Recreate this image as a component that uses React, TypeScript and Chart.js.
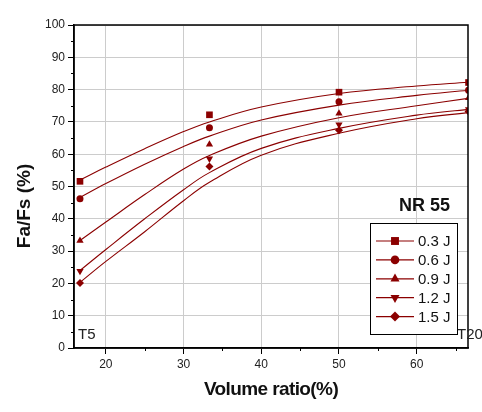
import React, { useEffect, useRef } from "react";
import { Chart, registerables } from "chart.js";

Chart.register(...registerables);

// ---- data ----
const seriesNames = ["0.3 J", "0.6 J", "0.9 J", "1.2 J", "1.5 J"];
const pointX = [16.67, 33.33, 50, 66.67];
const pts03 = [51.6, 72.2, 79.2, 82.2];
const pts06 = [46.2, 68.2, 76.2, 79.8];
const pts09 = [33.2, 63.0, 72.6, 77.4];
const pts12 = [23.8, 58.6, 69.2, 73.9];
const pts15 = [20.1, 56.2, 67.4, 73.2];

const curveX = [16.67, 20, 25, 30, 33.33, 40, 50, 60, 66.67];
const fit03 = [52.0, 56.0, 61.7, 67.0, 70.0, 74.6, 78.8, 81.1, 82.3];
const fit06 = [46.6, 50.9, 56.9, 62.4, 65.6, 70.6, 75.2, 78.2, 79.8];
const fit09 = [33.3, 39.0, 47.5, 55.4, 59.6, 65.6, 71.3, 75.0, 77.3];
const fit12 = [24.0, 30.5, 40.0, 49.0, 54.3, 61.8, 68.0, 72.1, 73.9];
const fit15 = [20.3, 26.8, 36.0, 45.6, 51.3, 59.7, 66.5, 71.0, 72.9];

const xMajorTicks = [20, 30, 40, 50, 60];
const xMinorTicks = [25, 35, 45, 55, 65];
const yMinorTicks = [5, 15, 25, 35, 45, 55, 65, 75, 85, 95];

const xTitle = "Volume ratio(%)";
const yTitle = "Fa/Fs (%)";
const panelLabel = "NR 55";
const leftNote = "T5";
const rightNote = "T20";

const RED = "#8B0000";
const styles: any[] = [
  { pointStyle: "rect", rotation: 0, r: 4.7, lr: 5.6 },
  { pointStyle: "circle", rotation: 0, r: 3.5, lr: 4.3 },
  { pointStyle: "triangle", rotation: 0, r: 4.2, lr: 5.2 },
  { pointStyle: "triangle", rotation: 180, r: 4.2, lr: 5.2 },
  { pointStyle: "rectRot", rotation: 0, r: 4.0, lr: 5.0 },
];

function drawMarker(ctx: CanvasRenderingContext2D, style: string, rot: number, x: number, y: number, r: number) {
  ctx.save();
  ctx.translate(x, y);
  ctx.rotate((rot * Math.PI) / 180);
  ctx.beginPath();
  if (style === "rect") {
    const s = Math.SQRT1_2 * r;
    ctx.rect(-s, -s, 2 * s, 2 * s);
  } else if (style === "circle") {
    ctx.arc(0, 0, r, 0, Math.PI * 2);
  } else if (style === "triangle") {
    ctx.moveTo(0, -r);
    ctx.lineTo(r * 0.866, r * 0.5);
    ctx.lineTo(-r * 0.866, r * 0.5);
    ctx.closePath();
  } else {
    ctx.moveTo(0, -r);
    ctx.lineTo(r, 0);
    ctx.lineTo(0, r);
    ctx.lineTo(-r, 0);
    ctx.closePath();
  }
  ctx.fillStyle = RED;
  ctx.fill();
  ctx.restore();
}

const decorPlugin = {
  id: "decor",
  afterDraw(chart: any) {
    const { ctx, chartArea: a, scales } = chart;
    const xs = scales.x;
    const ys = scales.y;
    ctx.save();
    // frame
    ctx.strokeStyle = "#000";
    ctx.lineWidth = 1.5;
    ctx.strokeRect(a.left, a.top, a.right - a.left, a.bottom - a.top);
    // minor ticks
    ctx.lineWidth = 1;
    ctx.beginPath();
    yMinorTicks.forEach((v) => {
      const y = Math.round(ys.getPixelForValue(v)) + 0.5;
      ctx.moveTo(a.left - 3, y);
      ctx.lineTo(a.left, y);
    });
    xMinorTicks.forEach((v) => {
      const x = Math.round(xs.getPixelForValue(v)) + 0.5;
      ctx.moveTo(x, a.bottom);
      ctx.lineTo(x, a.bottom + 3);
    });
    ctx.stroke();

    // texts
    ctx.fillStyle = "#111";
    ctx.font = "bold 18px Arial, 'Liberation Sans', sans-serif";
    ctx.textAlign = "right";
    ctx.textBaseline = "alphabetic";
    ctx.fillText(panelLabel, 450, 211);

    ctx.font = "15px Arial, 'Liberation Sans', sans-serif";
    ctx.textAlign = "left";
    ctx.fillStyle = "#222";
    ctx.fillText(leftNote, 78, 339);
    ctx.fillText(rightNote, 457, 339);

    // axis titles
    ctx.fillStyle = "#111";
    ctx.font = "bold 19px Arial, 'Liberation Sans', sans-serif";
    ctx.textAlign = "center";
    ctx.textBaseline = "middle";
    (ctx as any).letterSpacing = "-0.6px";
    ctx.fillText(xTitle, (a.left + a.right) / 2, 390);
    ctx.save();
    ctx.translate(25, 206);
    ctx.rotate(-Math.PI / 2);
    (ctx as any).letterSpacing = "0px";
    ctx.fillText(yTitle, 0, 0);
    ctx.restore();
    (ctx as any).letterSpacing = "0px";

    // legend
    const bx = 370, by = 223, bw = 87, bh = 111;
    ctx.fillStyle = "#fff";
    ctx.fillRect(bx, by, bw, bh);
    ctx.strokeStyle = "#000";
    ctx.lineWidth = 1;
    ctx.strokeRect(bx + 0.5, by + 0.5, bw, bh);
    ctx.font = "15px Arial, 'Liberation Sans', sans-serif";
    ctx.textAlign = "left";
    ctx.textBaseline = "middle";
    seriesNames.forEach((name, i) => {
      const y = 241 + i * 18.9;
      ctx.strokeStyle = RED;
      ctx.lineWidth = 1.2;
      ctx.beginPath();
      ctx.moveTo(376, y);
      ctx.lineTo(414, y);
      ctx.stroke();
      const s = styles[i];
      drawMarker(ctx, s.pointStyle, s.rotation, 395, y, s.lr);
      ctx.fillStyle = "#111";
      ctx.fillText(name, 418, y + 1);
    });
    ctx.restore();
  },
};

export default function App() {
  const ref = useRef<HTMLCanvasElement | null>(null);
  useEffect(() => {
    document.body.style.margin = "0";
    if (!ref.current) return;
    const fits = [fit03, fit06, fit09, fit12, fit15];
    const pts = [pts03, pts06, pts09, pts12, pts15];
    const datasets: any[] = [];
    fits.forEach((f, i) => {
      datasets.push({
        type: "line",
        label: seriesNames[i] + " fit",
        data: curveX.map((x, j) => ({ x, y: f[j] })),
        borderColor: RED,
        borderWidth: 1.1,
        pointRadius: 0,
        fill: false,
        tension: 0.4,
      });
    });
    pts.forEach((p, i) => {
      const s = styles[i];
      datasets.push({
        type: "scatter",
        label: seriesNames[i],
        data: pointX.map((x, j) => ({ x, y: p[j] })),
        backgroundColor: RED,
        borderColor: RED,
        borderWidth: 0,
        pointStyle: s.pointStyle,
        rotation: s.rotation,
        pointRadius: s.r,
        showLine: false,
      });
    });
    const chart = new Chart(ref.current, {
      type: "scatter",
      data: { datasets },
      options: {
        animation: false,
        responsive: false,
        maintainAspectRatio: false,
        events: [],
        layout: { padding: { left: 0, top: 25, right: 14, bottom: 0 } },
        plugins: { legend: { display: false }, tooltip: { enabled: false } },
        scales: {
          x: {
            type: "linear",
            min: 15.9,
            max: 66.6,
            afterBuildTicks: (scale: any) => {
              scale.ticks = xMajorTicks.map((v) => ({ value: v }));
            },
            afterFit: (scale: any) => {
              scale.height = 64;
            },
            grid: { color: "#cccccc", lineWidth: 1, tickColor: "#000", tickLength: 6, drawTicks: true },
            border: { display: true, color: "#000", width: 1.5 },
            ticks: {
              color: "#222",
              padding: 3,
              maxRotation: 0,
              font: { family: "Arial, 'Liberation Sans', sans-serif", size: 12 },
            },
          },
          y: {
            type: "linear",
            min: 0,
            max: 100,
            afterFit: (scale: any) => {
              scale.width = 74;
            },
            grid: { color: "#cccccc", lineWidth: 1, tickColor: "#000", tickLength: 6, drawTicks: true },
            border: { display: true, color: "#000", width: 1.5 },
            ticks: {
              stepSize: 10,
              color: "#222",
              padding: 3,
              font: { family: "Arial, 'Liberation Sans', sans-serif", size: 12 },
            },
          },
        },
      },
      plugins: [decorPlugin],
    } as any);
    return () => chart.destroy();
  }, []);
  return (
    <div style={{ width: 482, height: 412 }}>
      <canvas ref={ref} width={482} height={412} style={{ display: "block", width: 482, height: 412 }} />
    </div>
  );
}
